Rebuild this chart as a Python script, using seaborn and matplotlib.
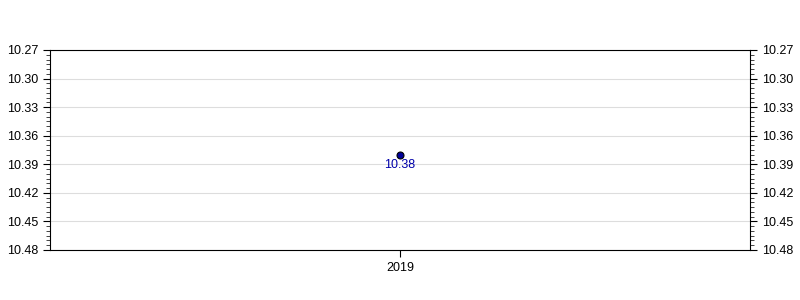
import matplotlib
matplotlib.use("Agg")
import matplotlib.pyplot as plt
from matplotlib.ticker import AutoMinorLocator, FixedLocator
import seaborn as sns
import pandas as pd

years = ["2019"]
values = [10.38]
yticks = [10.27, 10.30, 10.33, 10.36, 10.39, 10.42, 10.45, 10.48]

sns.set_style("white")
plt.rcParams['font.family'] = ['Liberation Sans', 'DejaVu Sans']

df = pd.DataFrame({"year": years, "value": values})

fig = plt.figure(figsize=(8, 3), dpi=100)
ax = fig.add_axes([50/800, 50/300, 700/800, 200/300])

sns.scatterplot(data=df, x="year", y="value", ax=ax, s=25, color="#000099",
                edgecolor="black", linewidth=0.8, zorder=3, legend=False)

ax.set_xlim(-0.5, 0.5)
ax.set_ylim(10.48, 10.27)
ax.yaxis.set_major_locator(FixedLocator(yticks))
ax.yaxis.set_minor_locator(AutoMinorLocator(6))
ax.set_yticklabels([f"{t:.2f}" for t in yticks])
ax.grid(axis="y", color="#dddddd", linewidth=0.8)
ax.set_axisbelow(True)

for i, (yr, v) in enumerate(zip(years, values)):
    ax.annotate(f"{v:.2f}", (i, v), xytext=(0, -3), textcoords="offset points",
                ha="center", va="top", color="#0000aa", fontsize=9)

ax.tick_params(axis="y", which="major", direction="out", length=5, width=0.8,
               left=True, right=True, labelleft=True, labelright=True,
               labelsize=9, colors="black")
ax.tick_params(axis="y", which="minor", direction="out", length=3, width=0.6,
               left=True, right=True)
ax.tick_params(axis="x", which="major", direction="out", length=5, width=0.8,
               bottom=True, labelsize=9, colors="black")
for s in ax.spines.values():
    s.set_visible(True)
    s.set_color("black")
    s.set_linewidth(0.8)
ax.set_xlabel("")
ax.set_ylabel("")

fig.savefig("out.png", dpi=100)
